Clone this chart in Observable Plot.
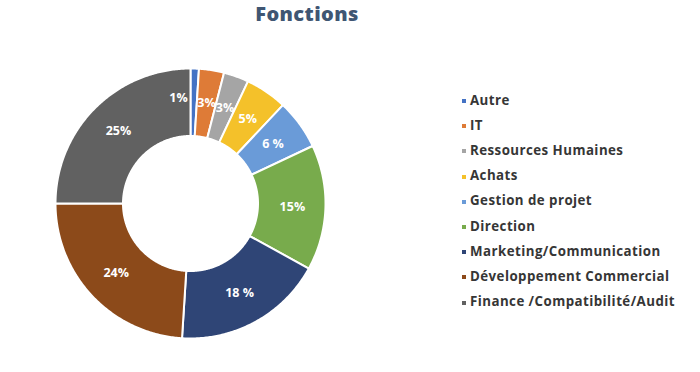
<!DOCTYPE html>
<html><head><meta charset="utf-8">
<script src="https://cdn.jsdelivr.net/npm/d3@7"></script>
<script src="https://cdn.jsdelivr.net/npm/@observablehq/plot@0.6"></script>
<style>
html,body{margin:0;padding:0;background:#fff;}
#wrap{position:relative;width:700px;height:372px;overflow:hidden;font-family:"Open Sans",sans-serif;}
#title{position:absolute;left:0;top:0px;width:614px;text-align:center;font-size:20px;font-weight:800;color:#3F5673;letter-spacing:0.4px;}
#chart{position:absolute;left:0;top:0;}
#legend{position:absolute;left:462px;top:87px;}
.li{height:25.2px;display:flex;align-items:center;font-size:13.3px;font-weight:700;color:#363636;letter-spacing:0.45px;white-space:nowrap;}
.sw{width:4px;height:4px;margin-right:4px;margin-top:3px;}
</style></head><body>
<div id="wrap"><div id="title">Fonctions</div><div id="chart"></div><div id="legend"></div></div>
<script>
const categories = ["Autre","IT","Ressources Humaines","Achats","Gestion de projet","Direction","Marketing/Communication","Développement Commercial","Finance /Compatibilité/Audit"];
const values = [1,3,3,5,6,15,18,24,25];
const labels = ["1%","3%","3%","5%","6 %","15%","18 %","24%","25%"];
const colors = ["#4472C4","#DE7B37","#A5A5A5","#F4C12A","#6A9BD8","#78AB4C","#2F4576","#8C4A1A","#616161"];

const W = 700, H = 372, cx = 190, cy = 203, R = 135;
const inner = 0.5, labelR = 0.755;
const total = d3.sum(values);
let acc = 0;
const slices = categories.map((c, i) => {
  const a0 = acc / total * 2 * Math.PI;
  acc += values[i];
  const a1 = acc / total * 2 * Math.PI;
  return {cat: c, a0, a1, frac: values[i] / total, label: labels[i]};
});
const pts = [];
for (const s of slices) {
  const n = Math.max(4, Math.ceil((s.a1 - s.a0) / 0.01));
  for (let k = 0; k <= n; k++) {
    const a = s.a0 + (s.a1 - s.a0) * k / n;
    pts.push({cat: s.cat, x: Math.sin(a), y: Math.cos(a)});
  }
  for (let k = n; k >= 0; k--) {
    const a = s.a0 + (s.a1 - s.a0) * k / n;
    pts.push({cat: s.cat, x: inner * Math.sin(a), y: inner * Math.cos(a)});
  }
}
const lab = slices.map(s => {
  const a = (s.a0 + s.a1) / 2;
  return {...s, x: labelR * Math.sin(a), y: labelR * Math.cos(a)};
});

const chart = Plot.plot({
  width: W, height: H, margin: 0,
  x: {domain: [-cx / R, (W - cx) / R], range: [0, W], axis: null},
  y: {domain: [-(H - cy) / R, cy / R], range: [H, 0], axis: null},
  color: {domain: categories, range: colors},
  style: {background: "transparent"},
  marks: [
    Plot.line(pts, {x: "x", y: "y", z: "cat", fill: "cat", stroke: "white", strokeWidth: 2, curve: "linear-closed"}),
    Plot.text(lab.filter(d => d.frac >= 0.02), {x: "x", y: "y", text: "label", fill: "white", fontSize: 12.5, fontWeight: 700, fontFamily: "Open Sans"}),
    Plot.text(lab.filter(d => d.frac < 0.02), {x: "x", y: "y", text: "label", fill: "white", fontSize: 12.5, fontWeight: 700, fontFamily: "Open Sans", textAnchor: "end", dx: -6, dy: -4})
  ]
});
document.getElementById("chart").appendChild(chart);

const leg = document.getElementById("legend");
categories.forEach((c, i) => {
  const row = document.createElement("div");
  row.className = "li";
  const sw = document.createElement("span");
  sw.className = "sw";
  sw.style.background = colors[i];
  const t = document.createElement("span");
  t.textContent = c;
  row.appendChild(sw); row.appendChild(t);
  leg.appendChild(row);
});
</script></body></html>
